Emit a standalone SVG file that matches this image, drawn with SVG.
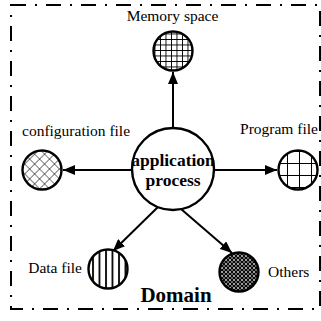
<svg xmlns="http://www.w3.org/2000/svg" width="321" height="321" viewBox="0 0 321 321">
<style>
text{font-family:"Liberation Serif","Times New Roman",serif;fill:#000}
.lbl{font-size:15.5px}
.ctr{font-size:17.5px;font-weight:bold;text-anchor:middle}
.node{stroke:#000;stroke-width:2.4}
.conn{stroke:#000;stroke-width:2;fill:none}
.frame{fill:none;stroke:#000;stroke-width:2;stroke-dasharray:15 9 2 9}
</style>
<defs>
<marker id="ah" viewBox="0 0 12 10" refX="12" refY="5" markerWidth="12" markerHeight="10" markerUnits="userSpaceOnUse" orient="auto">
<path d="M0,0 L12,5 L0,10 Z" fill="#000"/>
</marker>
<pattern id="grid" x="0.5" y="0.5" width="5.5" height="5.5" patternUnits="userSpaceOnUse">
<rect width="5.5" height="5.5" fill="#fff"/>
<path d="M0,0 H5.5 M0,0 V5.5" stroke="#000" stroke-width="1.8"/>
</pattern>
<pattern id="big" x="287" y="163" width="12" height="12" patternUnits="userSpaceOnUse">
<rect width="12" height="12" fill="#fff"/>
<path d="M0,0 H12 M0,0 V12" stroke="#000" stroke-width="2"/>
</pattern>
<pattern id="diag" width="7" height="7" patternUnits="userSpaceOnUse" patternTransform="rotate(45)">
<rect width="7" height="7" fill="#fff"/>
<path d="M0,0 H7 M0,0 V7" stroke="#000" stroke-width="1.1"/>
</pattern>
<pattern id="vert" x="1" width="6.5" height="6.5" patternUnits="userSpaceOnUse">
<rect width="6.5" height="6.5" fill="#fff"/>
<path d="M1,0 V6.5" stroke="#000" stroke-width="1.8"/>
</pattern>
<pattern id="dots" width="4" height="4" patternUnits="userSpaceOnUse">
<rect width="4" height="4" fill="#666"/>
<path d="M0,0 L4,4 M4,0 L0,4" stroke="#000" stroke-width="0.9"/>
<circle cx="2" cy="0" r="0.7" fill="#fff"/>
<circle cx="2" cy="4" r="0.7" fill="#fff"/>
</pattern>
</defs>
<rect class="frame" x="11" y="5" width="309" height="304"/>
<g id="connectors">
<line class="conn" x1="173" y1="128" x2="173" y2="72" marker-end="url(#ah)"/>
<line class="conn" x1="214" y1="170" x2="277" y2="170" marker-end="url(#ah)"/>
<line class="conn" x1="132" y1="170" x2="63" y2="170" marker-end="url(#ah)"/>
<line class="conn" x1="158" y1="207" x2="113" y2="251" marker-end="url(#ah)"/>
<line class="conn" x1="181" y1="209" x2="232" y2="253" marker-end="url(#ah)"/>
</g>
<g id="center">
<circle class="node" cx="173" cy="169" r="41" fill="#fff"/>
<text class="ctr" x="173" y="166">application</text>
<text class="ctr" x="173" y="186">process</text>
</g>
<g id="memory">
<text class="lbl" x="172.5" y="21" text-anchor="middle">Memory space</text>
<circle class="node" cx="173" cy="51" r="19.5" fill="url(#grid)"/>
</g>
<g id="program">
<text class="lbl" x="279" y="134" text-anchor="middle">Program file</text>
<circle class="node" cx="298" cy="170" r="19.5" fill="url(#big)"/>
</g>
<g id="config">
<text class="lbl" x="22" y="136">configuration file</text>
<circle class="node" cx="42" cy="170" r="19.5" fill="url(#diag)"/>
</g>
<g id="data">
<text class="lbl" x="82" y="273" text-anchor="end">Data file</text>
<circle class="node" cx="108" cy="269" r="19.5" fill="url(#vert)"/>
</g>
<g id="others">
<text class="lbl" x="268" y="277">Others</text>
<circle class="node" cx="239" cy="272" r="19.5" fill="url(#dots)"/>
</g>
<g id="domain">
<text x="176" y="302" style="font-size:21px;font-weight:bold;text-anchor:middle">Domain</text>
</g>
</svg>
